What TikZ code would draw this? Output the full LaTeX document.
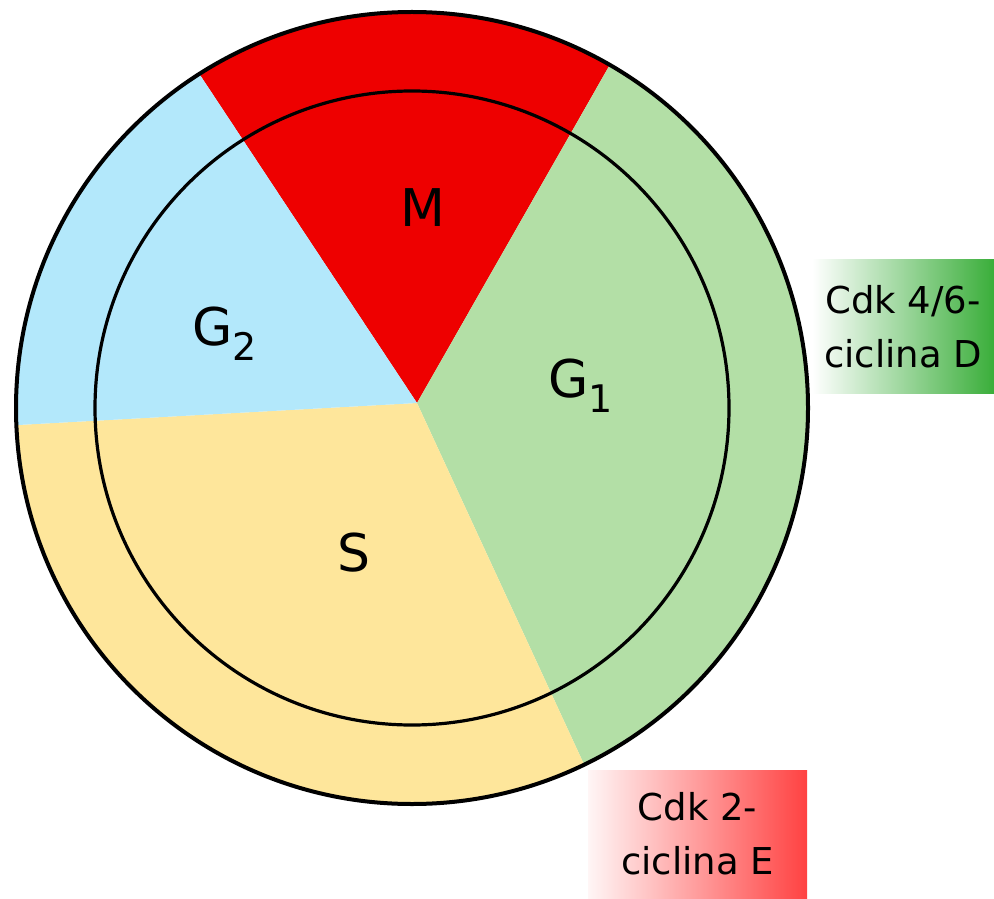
\documentclass[tikz,border=0pt]{standalone}
\usepackage{fontspec}
\setmainfont{DejaVu Sans}
\usetikzlibrary{positioning,calc}
\definecolor{phaseM}{HTML}{EE0000}
\definecolor{phaseGtwo}{HTML}{B3E8FB}
\definecolor{phaseS}{HTML}{FEE69B}
\definecolor{phaseGone}{HTML}{B3DFA6}
\definecolor{cdkD}{HTML}{3AAE3A}
\definecolor{cdkE}{HTML}{FF4242}
\newcommand{\phaseidx}[1]{\raisebox{-7.5pt}{\fontsize{19}{19}\selectfont #1}}

\begin{document}
\begin{tikzpicture}[x=0.5pt,y=-0.5pt,
    ring/.style={line width=1.6pt},
    outerring/.style={line width=2pt},
    phase/.style={font=\fontsize{26}{26}\selectfont, inner sep=0pt, anchor=base west},
    cdkbox/.style={align=center, inner sep=0pt, font=\fontsize{18.5}{27}\selectfont}
]
    \useasboundingbox (0,0) rectangle (994,898);
    \coordinate (apex) at (417,403);
    \coordinate (mid) at (412,408);

    % wedges of the cycle, cut to the outer circle
    \begin{scope}
        \clip (mid) circle[radius=396];
        \fill[phaseM] (apex) -- (-13,-247) -- (799,-267) -- cycle;
        \fill[phaseGone] (apex) -- (799,-267) -- (1300,-300) -- (1300,1200) -- (747,1117) -- cycle;
        \fill[phaseS] (apex) -- (747,1117) -- (-500,1200) -- (-381,447) -- cycle;
        \fill[phaseGtwo] (apex) -- (-381,447) -- (-500,-300) -- (-13,-247) -- cycle;
    \end{scope}

    \draw[outerring] (mid) circle[radius=396];
    \draw[ring] (mid) circle[radius=317];

    % phase labels
    \node[phase] (labM) at (400,227) {M};
    \node[phase] (labGtwo) at (192,345) {G\phaseidx{2}};
    \node[phase] (labGone) at (548,397) {G\phaseidx{1}};
    \node[phase] (labS) at (337,571) {S};

    % cyclin complexes
    \node[cdkbox, left color=white, right color=cdkD, minimum width=91pt, minimum height=66.5pt] (cdkDbox) at (903,326.5) {Cdk 4/6-\\ciclina D};
    \node[cdkbox, left color=cdkE!5!white, right color=cdkE, minimum width=109.5pt, minimum height=64pt] (cdkEbox) at (697.5,834) {Cdk 2-\\ciclina E};
\end{tikzpicture}
\end{document}
